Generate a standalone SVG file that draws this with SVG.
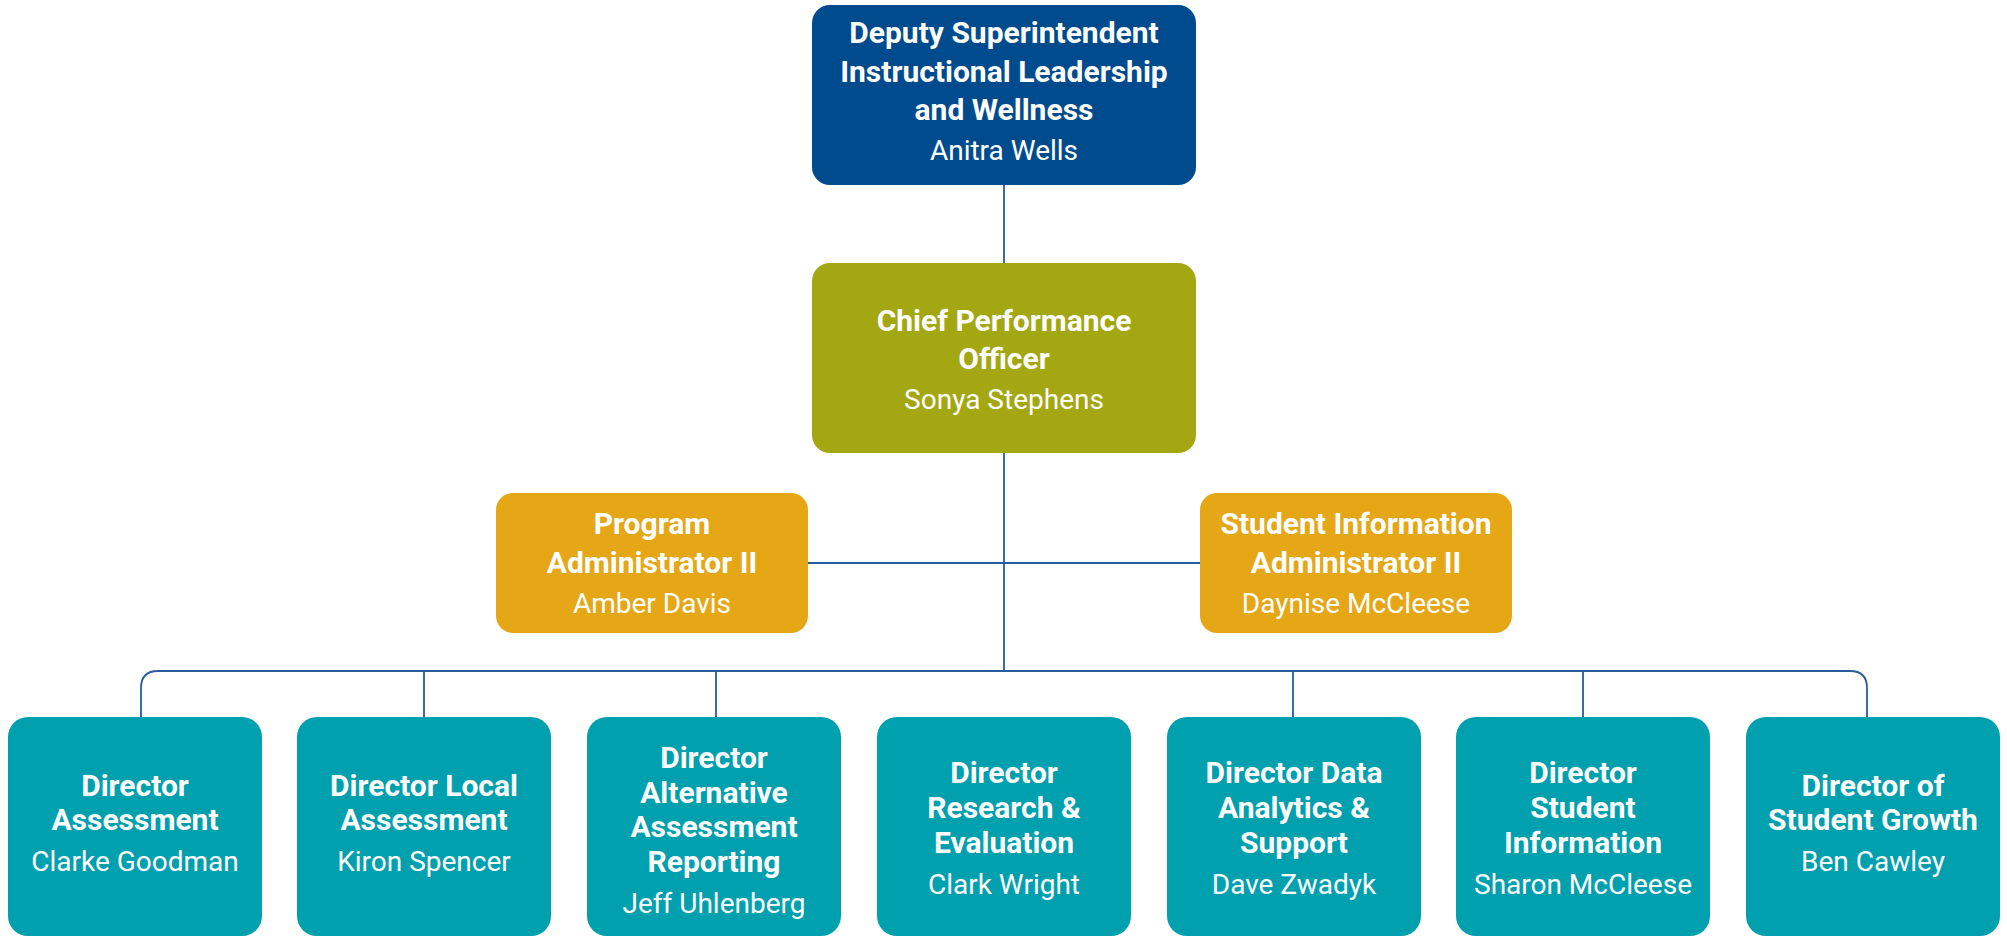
<svg xmlns="http://www.w3.org/2000/svg" width="2007" height="938" viewBox="0 0 2007 938">
<style>
.t{font-family:Roboto,"Liberation Sans",sans-serif;font-weight:700;font-size:30px;fill:#fff;text-anchor:middle}
.n{font-family:Roboto,"Liberation Sans",sans-serif;font-weight:400;font-size:28px;fill:#fff;text-anchor:middle}
.ln{fill:none;stroke:#2a5b9c;stroke-width:1.8}
.navy{fill:#004b8d}.olive{fill:#a3a711}.gold{fill:#e5a716}.teal{fill:#00a0ae}
</style>
<rect width="2007" height="938" fill="#fff"/>
<g id="connectors">
<path class="ln" d="M1004 185V263M1004 453V671M808 563H1200"/>
<path class="ln" d="M141 717V688Q141 671 158 671H1850Q1867 671 1867 688V717"/>
<path class="ln" d="M424 671V717M716 671V717M1293 671V717M1583 671V717"/>
</g>
<g id="deputy">
<rect class="navy" x="812" y="5" width="384" height="180" rx="18"/>
<text class="t" x="1004" y="43">Deputy Superintendent</text>
<text class="t" x="1004" y="82">Instructional Leadership</text>
<text class="t" x="1004" y="120">and Wellness</text>
<text class="n" x="1004" y="160">Anitra Wells</text>
</g>
<g id="chief">
<rect class="olive" x="812" y="263" width="384" height="190" rx="18"/>
<text class="t" x="1004" y="331">Chief Performance</text>
<text class="t" x="1004" y="369">Officer</text>
<text class="n" x="1004" y="409">Sonya Stephens</text>
</g>
<g id="program-admin">
<rect class="gold" x="496" y="493" width="312" height="140" rx="17"/>
<text class="t" x="652" y="534">Program</text>
<text class="t" x="652" y="573">Administrator II</text>
<text class="n" x="652" y="613">Amber Davis</text>
</g>
<g id="student-info-admin">
<rect class="gold" x="1200" y="493" width="312" height="140" rx="17"/>
<text class="t" x="1356" y="534">Student Information</text>
<text class="t" x="1356" y="573">Administrator II</text>
<text class="n" x="1356" y="613">Daynise McCleese</text>
</g>
<g id="dir-assessment">
<rect class="teal" x="8" y="717" width="254" height="219" rx="20"/>
<text class="t" x="135" y="796">Director</text>
<text class="t" x="135" y="830">Assessment</text>
<text class="n" x="135" y="871">Clarke Goodman</text>
</g>
<g id="dir-local">
<rect class="teal" x="297" y="717" width="254" height="219" rx="20"/>
<text class="t" x="424" y="796">Director Local</text>
<text class="t" x="424" y="830">Assessment</text>
<text class="n" x="424" y="871">Kiron Spencer</text>
</g>
<g id="dir-alternative">
<rect class="teal" x="587" y="717" width="254" height="219" rx="20"/>
<text class="t" x="714" y="768">Director</text>
<text class="t" x="714" y="803">Alternative</text>
<text class="t" x="714" y="837">Assessment</text>
<text class="t" x="714" y="872">Reporting</text>
<text class="n" x="714" y="913">Jeff Uhlenberg</text>
</g>
<g id="dir-research">
<rect class="teal" x="877" y="717" width="254" height="219" rx="20"/>
<text class="t" x="1004" y="783">Director</text>
<text class="t" x="1004" y="818">Research &amp;</text>
<text class="t" x="1004" y="853">Evaluation</text>
<text class="n" x="1004" y="894">Clark Wright</text>
</g>
<g id="dir-data">
<rect class="teal" x="1167" y="717" width="254" height="219" rx="20"/>
<text class="t" x="1294" y="783">Director Data</text>
<text class="t" x="1294" y="818">Analytics &amp;</text>
<text class="t" x="1294" y="853">Support</text>
<text class="n" x="1294" y="894">Dave Zwadyk</text>
</g>
<g id="dir-student-info">
<rect class="teal" x="1456" y="717" width="254" height="219" rx="20"/>
<text class="t" x="1583" y="783">Director</text>
<text class="t" x="1583" y="818">Student</text>
<text class="t" x="1583" y="853">Information</text>
<text class="n" x="1583" y="894">Sharon McCleese</text>
</g>
<g id="dir-growth">
<rect class="teal" x="1746" y="717" width="254" height="219" rx="20"/>
<text class="t" x="1873" y="796">Director of</text>
<text class="t" x="1873" y="830">Student Growth</text>
<text class="n" x="1873" y="871">Ben Cawley</text>
</g>
</svg>
